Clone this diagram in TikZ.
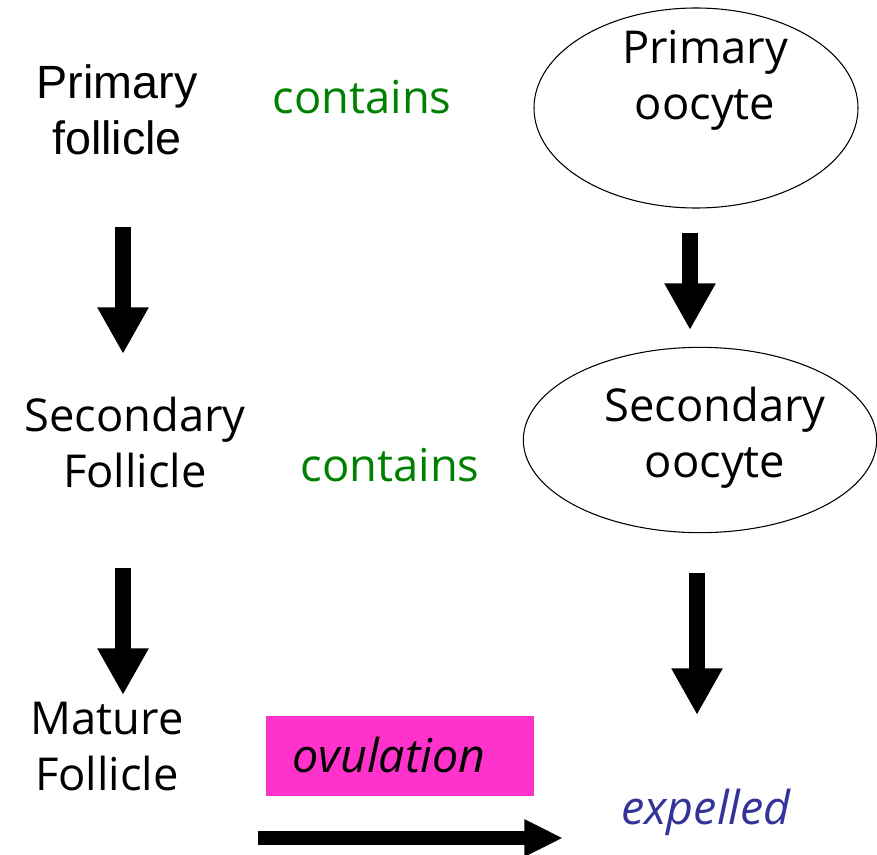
\documentclass[tikz,border=0pt]{standalone}
\usepackage{fontspec}
\setmainfont{Open Sans}
\newfontfamily\arialfont{Liberation Sans}
\usetikzlibrary{arrows.meta,shapes.geometric}

\definecolor{cgreen}{RGB}{0,128,0}
\definecolor{cmagenta}{RGB}{255,51,204}
\definecolor{cblue}{RGB}{51,51,153}

\tikzset{
  label/.style={align=center,font=\fontsize{34}{42}\selectfont},
  slanted/.style={font=\itshape\fontsize{35}{42}\selectfont},
  bigarrow/.style={line width=12pt,-{Triangle[width=36pt,length=35pt]}},
}

\begin{document}
\begin{tikzpicture}[x=0.75pt,y=0.75pt,yscale=-1,xscale=1]
    \useasboundingbox (0,0) rectangle (877,855);

    % Text Node
    \node[label,font=\arialfont\fontsize{35}{42}\selectfont] (pfol) at (117,110) {Primary\\follicle};
    % Text Node
    \node[label,text=cgreen] (cont1) at (362,97) {contains};
    % Ellipse
    \node[draw,ellipse,line width=0.8pt,minimum width=243pt,minimum height=150pt] (pooc) at (696,108) {};
    \node[label] (pootxt) at (705,80) {Primary\\oocyte};
    % Text Node
    \node[label] (sfol) at (135,442) {Secondary\\Follicle};
    % Text Node
    \node[label,text=cgreen] (cont2) at (390,465) {contains};
    % Ellipse
    \node[draw,ellipse,line width=0.8pt,minimum width=265pt,minimum height=139pt] (sooc) at (700,440) {};
    \node[label] (sootxt) at (715,438) {Secondary\\oocyte};
    % Text Node
    \node[label] (mfol) at (107,747) {Mature\\Follicle};
    % Box
    \node[fill=cmagenta,minimum width=201pt,minimum height=60pt] (ovbox) at (400,756) {};
    \node[label,slanted] (ovul) at (389,755) {ovulation};
    % Text Node
    \node[label,slanted,text=cblue] (expl) at (706,812) {expelled};

    % Arrow ends
    \coordinate (l1s) at (123,227);
    \coordinate (l1e) at (123,354);
    \coordinate (r1s) at (690,233);
    \coordinate (r1e) at (690,330);
    \coordinate (l2s) at (123,568);
    \coordinate (l2e) at (123,695);
    \coordinate (r2s) at (697,573);
    \coordinate (r2e) at (697,715);
    \coordinate (hs) at (258,838);
    \coordinate (he) at (563,838);

    % Connection
    \draw[bigarrow] (l1s) -- (l1e);
    \draw[bigarrow] (r1s) -- (r1e);
    \draw[bigarrow] (l2s) -- (l2e);
    \draw[bigarrow] (r2s) -- (r2e);
    \draw[bigarrow,line width=10pt,-{Triangle[width=26pt,length=29pt]}] (hs) -- (he);

\end{tikzpicture}
\end{document}
